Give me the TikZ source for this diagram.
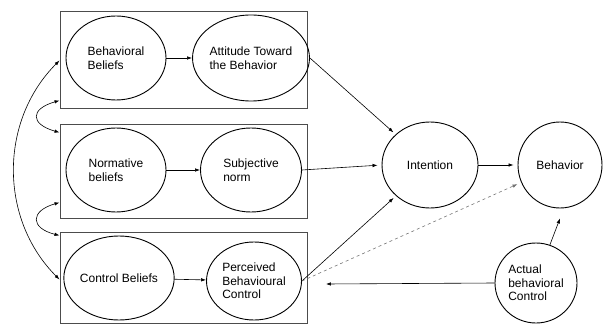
\documentclass[tikz,border=0pt]{standalone}
\usepackage{fontspec}
\setmainfont{Liberation Sans}
\usetikzlibrary{arrows.meta,shapes.geometric}

\begin{document}
\begin{tikzpicture}[x=1pt, y=1pt, every node/.style={font=\fontsize{12}{13.5}\selectfont}, >={Latex[length=5pt,width=3.5pt]},
	oval/.style={draw, ellipse, line width=0.9pt, inner sep=0pt, align=left},
	frame/.style={draw=black!70, line width=1pt, rectangle, inner sep=0pt},
	link/.style={->, line width=0.6pt}]
	\useasboundingbox (0,0) rectangle (604,324);
	% three framed groups
	\node[frame, minimum width=247pt, minimum height=97pt] (box1) at (183.5,263.5) {};
	\node[frame, minimum width=247pt, minimum height=93pt] (box2) at (183.5,152.5) {};
	\node[frame, minimum width=247pt, minimum height=91pt] (box3) at (183.5,46.5) {};
	% beliefs and their outcomes
	\node[oval, minimum width=100pt, minimum height=84pt] (bb) at (116,266) {Behavioral\\Beliefs};
	\node[oval, minimum width=101pt, minimum height=86pt] (att) at (251,266) {Attitude Toward\\the Behavior};
	\node[oval, minimum width=100pt, minimum height=84pt] (nb) at (116,154) {Normative\\beliefs};
	\node[oval, minimum width=101pt, minimum height=84pt] (sn) at (251,154) {Subjective\\norm};
	\node[oval, minimum width=94pt, minimum height=84pt] (cb) at (119,46) {Control Beliefs};
	\node[oval, minimum width=95pt, minimum height=78pt] (pbc) at (254,43) {Perceived\\Behavioural\\Control};
	% right part
	\node[oval, minimum width=96pt, minimum height=86pt] (int) at (430,159) {Intention};
	\node[oval, minimum width=84pt, minimum height=86pt] (beh) at (560,159) {Behavior};
	\node[oval, minimum width=82pt, minimum height=80pt] (abc) at (536,41) {Actual\\behavioral\\Control};
	% connectors
	\draw[link] (bb) -- (att);
	\draw[link] (nb) -- (sn);
	\draw[link] (cb) -- (pbc);
	\draw[link, shorten >=3pt] (att.east) -- (int);
	\draw[link, shorten >=4pt] (sn.east) -- (int.west);
	\draw[link, shorten >=3pt] (pbc.east) -- (int);
	\draw[link, dashed, draw=black!55, shorten >=4pt] (pbc.east) -- (beh);
	\draw[link, shorten >=4pt] (int.east) -- (beh.west);
	\draw[link] (abc.70) -- ([yshift=-10pt]beh.south);
	\draw[link] (abc.west) -- ([shift={(24pt,-3pt)}]pbc.east);
	% correlations between the belief groups
	\draw[<->, line width=0.6pt] (box1.west) to[out=225, in=135] ([yshift=-2pt]box3.west);
	\draw[<->, line width=0.6pt] ([yshift=9pt]box1.south west) .. controls (30,215) and (30,200) .. ([yshift=-8pt]box2.north west);
	\draw[<->, line width=0.6pt] ([yshift=16pt]box2.south west) .. controls (30,113) and (30,96) .. ([yshift=-4pt]box3.north west);
\end{tikzpicture}
\end{document}
